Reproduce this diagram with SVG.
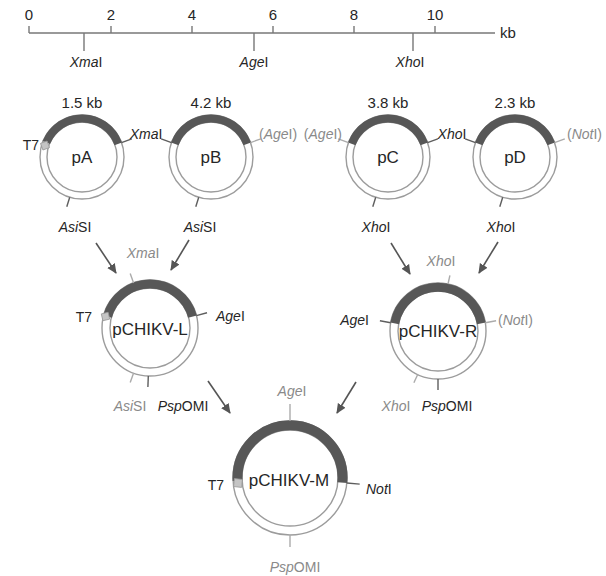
<svg xmlns="http://www.w3.org/2000/svg" width="606" height="576" viewBox="0 0 606 576">
  <style>
    text { font-family: "Liberation Sans", Arial, sans-serif; font-size: 14px; fill: #262626; }
    .num { font-size: 15px; }
    .size { font-size: 15px; }
    .name { font-size: 17px; }
    .g { fill: #8a8a8a; }
    .it { font-style: italic; }
    .ring { fill: none; stroke: #9c9c9c; stroke-width: 1.4; }
    .bg { fill: #fff; }
    .arc { fill: none; stroke: #575757; }
    .tk { stroke: #5e5e5e; stroke-width: 1.4; }
    .tkg { stroke: #ababab; stroke-width: 1.4; }
    .t7 { fill: #c4c4c4; stroke: #9a9a9a; stroke-width: 0.8; }
    .conn { fill: none; stroke: #555; stroke-width: 1.6; marker-end: url(#ah); }
  </style>
  <defs>
    <marker id="ah" viewBox="0 0 10 10" refX="9" refY="5" markerWidth="10" markerHeight="10" markerUnits="userSpaceOnUse" orient="auto">
      <path d="M0,0.5 L10,5 L0,9.5 z" fill="#555"/>
    </marker>
  </defs>

  <!-- scale bar (kb) -->
  <g id="scale">
    <line x1="29" y1="33" x2="495" y2="33" stroke="#777" stroke-width="1.6"/>
    <g stroke="#777" stroke-width="1.4">
      <line x1="29" y1="26" x2="29" y2="33"/>
      <line x1="111" y1="26" x2="111" y2="33"/>
      <line x1="192" y1="26" x2="192" y2="33"/>
      <line x1="273" y1="26" x2="273" y2="33"/>
      <line x1="354" y1="26" x2="354" y2="33"/>
      <line x1="435" y1="26" x2="435" y2="33"/>
      <line x1="84" y1="33" x2="84" y2="51"/>
      <line x1="254" y1="33" x2="254" y2="51"/>
      <line x1="413" y1="33" x2="413" y2="51"/>
    </g>
    <g text-anchor="middle">
      <text x="29" y="20" class="num">0</text>
      <text x="111" y="20" class="num">2</text>
      <text x="192" y="20" class="num">4</text>
      <text x="273" y="20" class="num">6</text>
      <text x="354" y="20" class="num">8</text>
      <text x="435" y="20" class="num">10</text>
    </g>
    <text x="500" y="38" class="num">kb</text>
    <text x="86" y="67" text-anchor="middle"><tspan class="it">Xma</tspan>I</text>
    <text x="254" y="67" text-anchor="middle"><tspan class="it">Age</tspan>I</text>
    <text x="410" y="67" text-anchor="middle"><tspan class="it">Xho</tspan>I</text>
  </g>

  <!-- pA -->
  <g id="pA">
    <circle class="ring bg" cx="82" cy="157" r="42"/>
    <circle class="ring" cx="82" cy="157" r="35"/>
    <path class="arc" stroke-width="8" d="M46.3,142.6 A38.5,38.5 0 0 1 118.2,143.8"/>
    <rect class="t7" x="41.5" y="142" width="7" height="7" transform="rotate(-20 45 145.5)"/>
    <line class="tk" x1="121.5" y1="142.6" x2="131.8" y2="138.9"/>
    <line class="tk" x1="69.7" y1="197.2" x2="66.8" y2="206.7"/>
    <text x="82" y="108" text-anchor="middle" class="size">1.5 kb</text>
    <text x="82" y="163" text-anchor="middle" class="name">pA</text>
    <text x="39" y="150" text-anchor="end">T7</text>
    <text x="75" y="232" text-anchor="middle"><tspan class="it">Asi</tspan>SI</text>
  </g>

  <!-- XmaI site shared by pA / pB -->
  <text id="pA-pB-site" x="146" y="139" text-anchor="middle"><tspan class="it">Xma</tspan>I</text>

  <!-- pB -->
  <g id="pB">
    <circle class="ring bg" cx="211" cy="157" r="42"/>
    <circle class="ring" cx="211" cy="157" r="35"/>
    <path class="arc" stroke-width="8" d="M174.8,143.8 A38.5,38.5 0 0 1 247.2,143.8"/>
    <line class="tk" x1="171.5" y1="142.6" x2="161.2" y2="138.9"/>
    <line class="tkg" x1="250.5" y1="142.6" x2="260.8" y2="138.9"/>
    <line class="tk" x1="198.7" y1="197.2" x2="195.8" y2="206.7"/>
    <text x="211" y="108" text-anchor="middle" class="size">4.2 kb</text>
    <text x="211" y="163" text-anchor="middle" class="name">pB</text>
    <text x="259" y="139" class="g">(<tspan class="it">Age</tspan>I)</text>
    <text x="200" y="232" text-anchor="middle"><tspan class="it">Asi</tspan>SI</text>
  </g>

  <!-- pC -->
  <g id="pC">
    <circle class="ring bg" cx="388" cy="157" r="42"/>
    <circle class="ring" cx="388" cy="157" r="35"/>
    <path class="arc" stroke-width="8" d="M351.8,143.8 A38.5,38.5 0 0 1 424.2,143.8"/>
    <line class="tkg" x1="348.5" y1="142.6" x2="338.2" y2="138.9"/>
    <line class="tk" x1="427.5" y1="142.6" x2="437.8" y2="138.9"/>
    <line class="tk" x1="375.7" y1="197.2" x2="372.8" y2="206.7"/>
    <text x="388" y="108" text-anchor="middle" class="size">3.8 kb</text>
    <text x="388" y="163" text-anchor="middle" class="name">pC</text>
    <text x="342" y="139" text-anchor="end" class="g">(<tspan class="it">Age</tspan>I)</text>
    <text x="376" y="232" text-anchor="middle"><tspan class="it">Xho</tspan>I</text>
  </g>

  <!-- XhoI site shared by pC / pD -->
  <text id="pC-pD-site" x="452" y="139" text-anchor="middle"><tspan class="it">Xho</tspan>I</text>

  <!-- pD -->
  <g id="pD">
    <circle class="ring bg" cx="515" cy="157" r="42"/>
    <circle class="ring" cx="515" cy="157" r="35"/>
    <path class="arc" stroke-width="8" d="M478.8,143.8 A38.5,38.5 0 0 1 551.2,143.8"/>
    <line class="tk" x1="475.5" y1="142.6" x2="465.2" y2="138.9"/>
    <line class="tkg" x1="554.5" y1="142.6" x2="564.8" y2="138.9"/>
    <line class="tk" x1="502.7" y1="197.2" x2="499.8" y2="206.7"/>
    <text x="515" y="108" text-anchor="middle" class="size">2.3 kb</text>
    <text x="515" y="163" text-anchor="middle" class="name">pD</text>
    <text x="567" y="139" class="g">(<tspan class="it">Not</tspan>I)</text>
    <text x="501" y="232" text-anchor="middle"><tspan class="it">Xho</tspan>I</text>
  </g>

  <!-- pCHIKV-L -->
  <g id="pCHIKV-L">
    <circle class="ring bg" cx="150" cy="328" r="48"/>
    <circle class="ring" cx="150" cy="328" r="40"/>
    <path class="arc" stroke-width="9" d="M107.5,316.6 A44,44 0 0 1 192.5,316.6"/>
    <rect class="t7" x="102" y="313" width="7" height="7" transform="rotate(-13 105.5 316.5)"/>
    <line class="tkg" x1="133.6" y1="282.9" x2="130.2" y2="273.5"/>
    <line class="tk" x1="196.4" y1="315.6" x2="207" y2="312.7"/>
    <line class="tkg" x1="133.6" y1="373.1" x2="130.2" y2="382.5"/>
    <line class="tk" x1="148.3" y1="376" x2="147.9" y2="387"/>
    <text x="150" y="335" text-anchor="middle" class="name">pCHIKV-L</text>
    <text x="92" y="322" text-anchor="end">T7</text>
    <text x="216" y="321"><tspan class="it">Age</tspan>I</text>
    <text x="143" y="258" text-anchor="middle" class="g"><tspan class="it">Xma</tspan>I</text>
    <text x="130" y="411" text-anchor="middle" class="g"><tspan class="it">Asi</tspan>SI</text>
    <text x="183" y="411" text-anchor="middle"><tspan class="it">Psp</tspan>OMI</text>
  </g>

  <!-- pCHIKV-R -->
  <g id="pCHIKV-R">
    <circle class="ring bg" cx="438" cy="331" r="48"/>
    <circle class="ring" cx="438" cy="331" r="40"/>
    <path class="arc" stroke-width="9" d="M394.7,323.4 A44,44 0 0 1 481.3,323.4"/>
    <line class="tk" x1="390.7" y1="322.7" x2="379.9" y2="320.8"/>
    <line class="tkg" x1="485.3" y1="322.7" x2="496.1" y2="320.8"/>
    <line class="tkg" x1="448" y1="284" x2="449.9" y2="275.3"/>
    <line class="tkg" x1="417.7" y1="374.5" x2="413.9" y2="382.7"/>
    <line class="tk" x1="438" y1="379" x2="438" y2="390"/>
    <text x="438" y="337" text-anchor="middle" class="name">pCHIKV-R</text>
    <text x="369" y="325" text-anchor="end"><tspan class="it">Age</tspan>I</text>
    <text x="498" y="325" class="g">(<tspan class="it">Not</tspan>I)</text>
    <text x="441" y="266" text-anchor="middle" class="g"><tspan class="it">Xho</tspan>I</text>
    <text x="396" y="411" text-anchor="middle" class="g"><tspan class="it">Xho</tspan>I</text>
    <text x="447" y="411" text-anchor="middle"><tspan class="it">Psp</tspan>OMI</text>
  </g>

  <!-- pCHIKV-M -->
  <g id="pCHIKV-M">
    <circle class="ring bg" cx="290" cy="478" r="57"/>
    <circle class="ring" cx="290" cy="478" r="48"/>
    <path class="arc" stroke-width="10" d="M237.6,480.7 A52.5,52.5 0 1 1 342.3,482.6"/>
    <rect class="t7" x="234" y="479" width="8" height="8" transform="rotate(6 238 483)"/>
    <line class="tkg" x1="290" y1="421" x2="290" y2="404"/>
    <line class="tk" x1="346.8" y1="483" x2="359.7" y2="484.1"/>
    <line class="tkg" x1="290" y1="535" x2="290" y2="547"/>
    <text x="289" y="486" text-anchor="middle" class="name">pCHIKV-M</text>
    <text x="224" y="490" text-anchor="end">T7</text>
    <text x="366" y="494"><tspan class="it">Not</tspan>I</text>
    <text x="292" y="396" text-anchor="middle" class="g"><tspan class="it">Age</tspan>I</text>
    <text x="295" y="572" text-anchor="middle" class="g"><tspan class="it">Psp</tspan>OMI</text>
  </g>

  <!-- assembly arrows -->
  <g id="connectors">
    <line class="conn" x1="96" y1="243" x2="116" y2="273"/>
    <line class="conn" x1="189" y1="240" x2="171" y2="270"/>
    <line class="conn" x1="391" y1="243" x2="410" y2="274"/>
    <line class="conn" x1="498" y1="242" x2="479" y2="273"/>
    <line class="conn" x1="208" y1="381" x2="230" y2="413"/>
    <line class="conn" x1="356" y1="382" x2="337" y2="413"/>
  </g>
</svg>
